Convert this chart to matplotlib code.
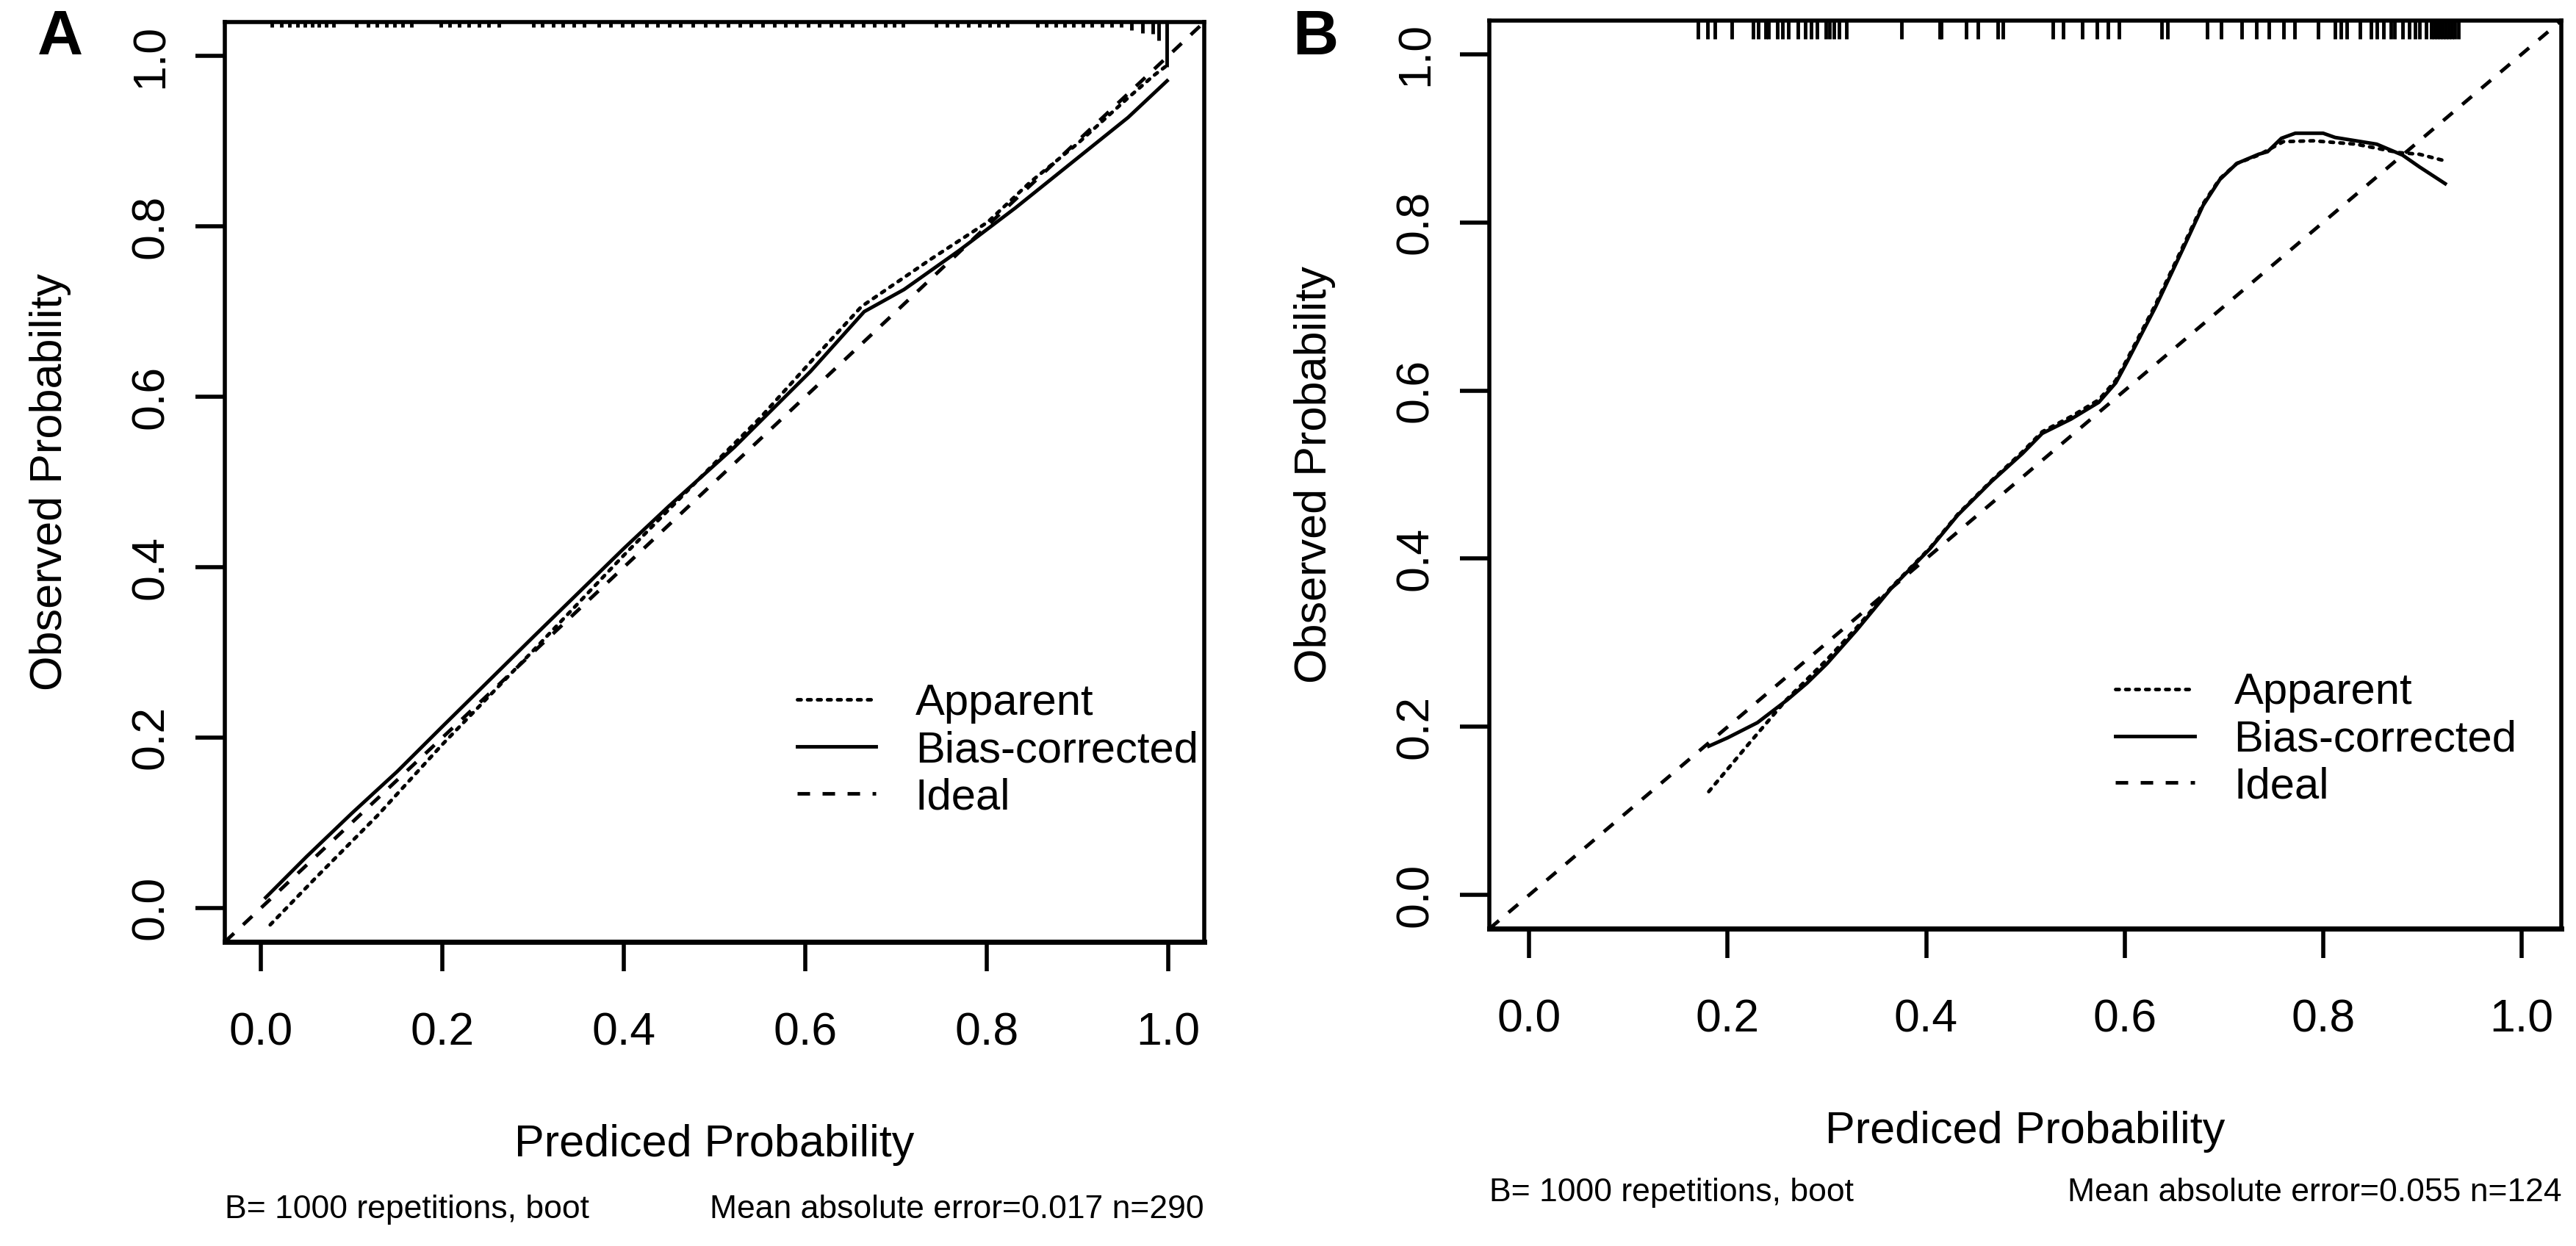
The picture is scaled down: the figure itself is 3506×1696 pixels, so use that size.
import matplotlib
matplotlib.use('Agg')
import matplotlib.pyplot as plt

plt.rcParams['font.family'] = ['Liberation Sans', 'DejaVu Sans']

# ---- panel A data ----
a_app_x = [0.01, 0.06, 0.128, 0.2, 0.3, 0.4, 0.5, 0.55, 0.606, 0.662, 0.739, 0.801, 0.848, 0.9, 0.956, 0.984, 1.0]
a_app_y = [-0.02, 0.035, 0.108, 0.192, 0.302, 0.414, 0.522, 0.575, 0.641, 0.706, 0.762, 0.805, 0.852, 0.897, 0.951, 0.977, 0.99]
a_bc_x = [0.005, 0.05, 0.10, 0.15, 0.2, 0.3, 0.4, 0.45, 0.522, 0.606, 0.665, 0.709, 0.77, 0.832, 0.894, 0.956, 0.999]
a_bc_y = [0.012, 0.06, 0.111, 0.16, 0.213, 0.318, 0.422, 0.472, 0.541, 0.630, 0.700, 0.726, 0.772, 0.822, 0.875, 0.928, 0.971]
a_rug = [0.012, 0.022, 0.031, 0.040, 0.048, 0.056, 0.064, 0.072, 0.080,
         0.105, 0.118, 0.128, 0.138, 0.147, 0.156, 0.166,
         0.198, 0.208, 0.218, 0.229, 0.240, 0.251, 0.262,
         0.300, 0.310, 0.322, 0.333, 0.345, 0.356,
         0.372, 0.385, 0.398, 0.410, 0.425, 0.437, 0.450, 0.462, 0.476, 0.490,
         0.503, 0.515, 0.528, 0.540, 0.553, 0.566, 0.578, 0.590, 0.603, 0.615,
         0.628, 0.640, 0.652, 0.664, 0.676, 0.688, 0.698, 0.708,
         0.744, 0.756, 0.768, 0.780, 0.792, 0.803, 0.813, 0.823,
         0.856, 0.866, 0.876, 0.886, 0.896, 0.906, 0.916, 0.927, 0.938, 0.948,
         0.960, 0.972, 0.983, 0.990, 0.999]
a_rug_freq = [1] * 75 + [1.6, 2.1, 2.3, 3.6, 8.7]
a_mae = '0.017'
a_n = 290

# ---- panel B data ----
b_app_x = [0.181, 0.22, 0.259, 0.30, 0.33, 0.365, 0.404, 0.432, 0.466, 0.497, 0.517, 0.546, 0.574,
           0.591, 0.602, 0.631, 0.659, 0.679, 0.696, 0.713, 0.735, 0.76, 0.79, 0.833, 0.876, 0.897, 0.92]
b_app_y = [0.123, 0.178, 0.232, 0.28, 0.318, 0.366, 0.413, 0.453, 0.493, 0.527, 0.551, 0.569, 0.589,
           0.612, 0.636, 0.702, 0.772, 0.822, 0.852, 0.870, 0.880, 0.896, 0.897, 0.893, 0.883, 0.881, 0.874]
b_bc_x = [0.181, 0.20, 0.23, 0.26, 0.28, 0.30, 0.33, 0.365, 0.404, 0.432, 0.466, 0.497, 0.517, 0.546,
          0.574, 0.591, 0.602, 0.631, 0.659, 0.679, 0.696, 0.713, 0.735, 0.744, 0.758, 0.772, 0.80,
          0.812, 0.854, 0.88, 0.897, 0.923]
b_bc_y = [0.177, 0.187, 0.205, 0.232, 0.252, 0.275, 0.315, 0.365, 0.412, 0.452, 0.492, 0.525, 0.549, 0.566,
          0.586, 0.609, 0.633, 0.699, 0.769, 0.820, 0.851, 0.870, 0.881, 0.884, 0.900, 0.906, 0.906,
          0.901, 0.893, 0.880, 0.866, 0.846]
b_rug = [0.170, 0.180, 0.187, 0.204, 0.226, 0.231, 0.238, 0.241, 0.250, 0.255, 0.261, 0.271, 0.278,
         0.284, 0.290, 0.299, 0.303, 0.307, 0.312, 0.320, 0.375, 0.414,
         0.415, 0.440, 0.452, 0.472, 0.477, 0.528, 0.538, 0.557, 0.572, 0.583, 0.594, 0.637, 0.643,
         0.683, 0.697, 0.718, 0.733, 0.745, 0.760, 0.771, 0.795, 0.812, 0.818, 0.824, 0.837, 0.848,
         0.854, 0.861, 0.868, 0.872, 0.880, 0.887, 0.893, 0.897, 0.904,
         0.909, 0.912, 0.915, 0.918, 0.921, 0.924, 0.927, 0.930, 0.933, 0.936]
b_rug_freq = [1] * len(b_rug)
b_mae = '0.055'
b_n = 124

ideal = [0, 1]
ticks = [0.0, 0.2, 0.4, 0.6, 0.8, 1.0]
tick_labels = ['0.0', '0.2', '0.4', '0.6', '0.8', '1.0']

fig = plt.figure(figsize=(35.06, 16.96), dpi=100)
ax_a = fig.add_axes([0.0873, 0.2441, 0.3802, 0.7382])
ax_b = fig.add_axes([0.5782, 0.2547, 0.4161, 0.7288])

panels = [
    (ax_a, a_app_x, a_app_y, a_bc_x, a_bc_y, a_rug, a_rug_freq, 7.0 / 1252, a_mae, a_n),
    (ax_b, b_app_x, b_app_y, b_bc_x, b_bc_y, b_rug, b_rug_freq, 25.0 / 1236, b_mae, b_n),
]

for ax, ax_x, ax_y, bc_x, bc_y, rug, freq, unit, mae, n in panels:
    ax.plot(ax_x, ax_y, color='black', lw=3.5, linestyle=(0, (1, 1.8)),
            dash_capstyle='round', label='Apparent')
    ax.plot(bc_x, bc_y, color='black', lw=3.5, label='Bias-corrected')
    ax.axline((ideal[0], ideal[0]), (ideal[1], ideal[1]), color='black', lw=3.5,
              linestyle=(0, (3.5, 3.5)), label='Ideal')
    # distribution of predicted probabilities along the top
    xt = ax.get_xaxis_transform()
    for x, f in zip(rug, freq):
        ax.plot([x, x], [1.0, 1.0 - f * unit], color='black', lw=3.5,
                transform=xt, clip_on=False, solid_capstyle='butt')

    ax.set_xlim(-0.04, 1.04)
    ax.set_ylim(-0.04, 1.04)
    ax.set_xticks(ticks)
    ax.set_xticklabels(tick_labels)
    ax.set_yticks(ticks)
    ax.set_yticklabels(tick_labels)
    ax.tick_params(axis='both', length=29, width=4.0, labelsize=45)
    ax.tick_params(axis='x', pad=39)
    ax.tick_params(axis='y', pad=22, labelrotation=90)
    for lab in ax.get_yticklabels():
        lab.set_va('center')
        lab.set_ha('right')
    for sp in ax.spines.values():
        sp.set_linewidth(4.0)
    ax.spines['bottom'].set_linewidth(5.0)

    ax.set_xlabel('Prediced Probability', fontsize=44, labelpad=68)
    ax.set_ylabel('Observed Probability', fontsize=44, labelpad=57)

    ax.legend(loc='center left', bbox_to_anchor=(0.584, 0.208), frameon=False,
              fontsize=43, handlelength=1.8, handletextpad=0.9, labelspacing=0.15,
              borderpad=0, borderaxespad=0)

    sub_y = -0.30
    ax.text(0.0, sub_y, 'B= 1000 repetitions, boot', transform=ax.transAxes,
            fontsize=32, ha='left', va='baseline')
    ax.text(1.0, sub_y, 'Mean absolute error=%s n=%d' % (mae, n), transform=ax.transAxes,
            fontsize=32, ha='right', va='baseline')

fig.text(82 / 3506, 1 - 52 / 1696, 'A', fontsize=62, fontweight='bold', ha='center', va='center')
fig.text(1790 / 3506, 1 - 52 / 1696, 'B', fontsize=62, fontweight='bold', ha='center', va='center')

fig.savefig('out.png', dpi=100)
